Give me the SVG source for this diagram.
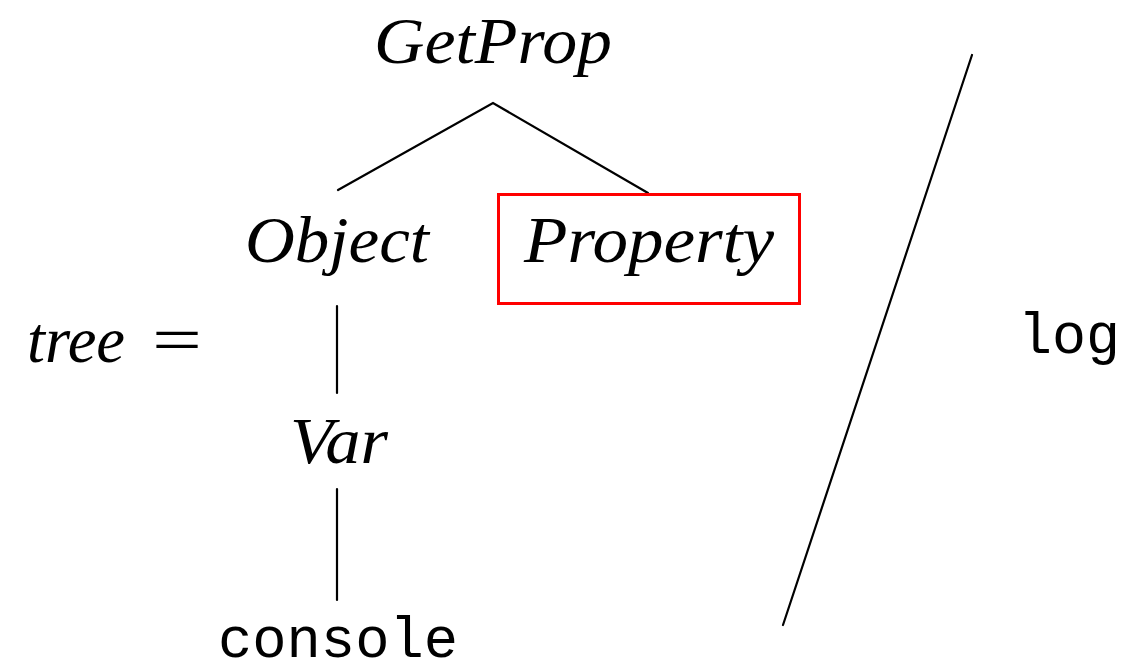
<svg xmlns="http://www.w3.org/2000/svg" width="1139" height="668" viewBox="0 0 1139 668">
  <style>
    .math { font-family: "Liberation Serif", "DejaVu Serif", serif; font-style: italic; font-size: 66px; fill: #000; }
    .rm { font-family: "Liberation Serif", "DejaVu Serif", serif; font-size: 66px; fill: #000; }
    .tt { font-family: "Liberation Mono", "DejaVu Sans Mono", monospace; font-size: 57px; fill: #000; }
    .edge { stroke: #000; stroke-width: 2.2; fill: none; stroke-linecap: round; }
    .hl { stroke: #ff0000; stroke-width: 3; fill: none; }
  </style>
  <rect width="1139" height="668" fill="#fff"/>

  <!-- left-hand side of the equation -->
  <g id="lhs">
    <text class="math" x="27" y="362" textLength="98" lengthAdjust="spacingAndGlyphs">tree</text>
    <text class="rm" x="152" y="362" textLength="50" lengthAdjust="spacingAndGlyphs">=</text>
  </g>

  <!-- tree edges -->
  <g id="connectors">
    <polyline class="edge" points="338,190 493,103 648,193"/>
    <line class="edge" x1="337" y1="306" x2="337" y2="393"/>
    <line class="edge" x1="337" y1="489" x2="337" y2="600"/>
  </g>

  <g id="node-getprop">
    <text class="math" x="374" y="63" textLength="238" lengthAdjust="spacingAndGlyphs">GetProp</text>
  </g>

  <g id="node-object">
    <text class="math" x="245" y="262" textLength="184" lengthAdjust="spacingAndGlyphs">Object</text>
  </g>

  <g id="node-property">
    <rect class="hl" x="498.5" y="194.5" width="301" height="109"/>
    <text class="math" x="524" y="262" textLength="250" lengthAdjust="spacingAndGlyphs">Property</text>
  </g>

  <g id="node-var">
    <text class="math" x="290" y="463" textLength="98" lengthAdjust="spacingAndGlyphs">Var</text>
  </g>

  <g id="node-console">
    <text class="tt" x="218" y="657" textLength="240" lengthAdjust="spacingAndGlyphs">console</text>
  </g>

  <!-- oblique stroke separating the tree from the replacement -->
  <line class="edge" x1="972" y1="55" x2="783" y2="625"/>

  <g id="node-log">
    <text class="tt" x="1018" y="353" textLength="102" lengthAdjust="spacingAndGlyphs">log</text>
  </g>
</svg>
